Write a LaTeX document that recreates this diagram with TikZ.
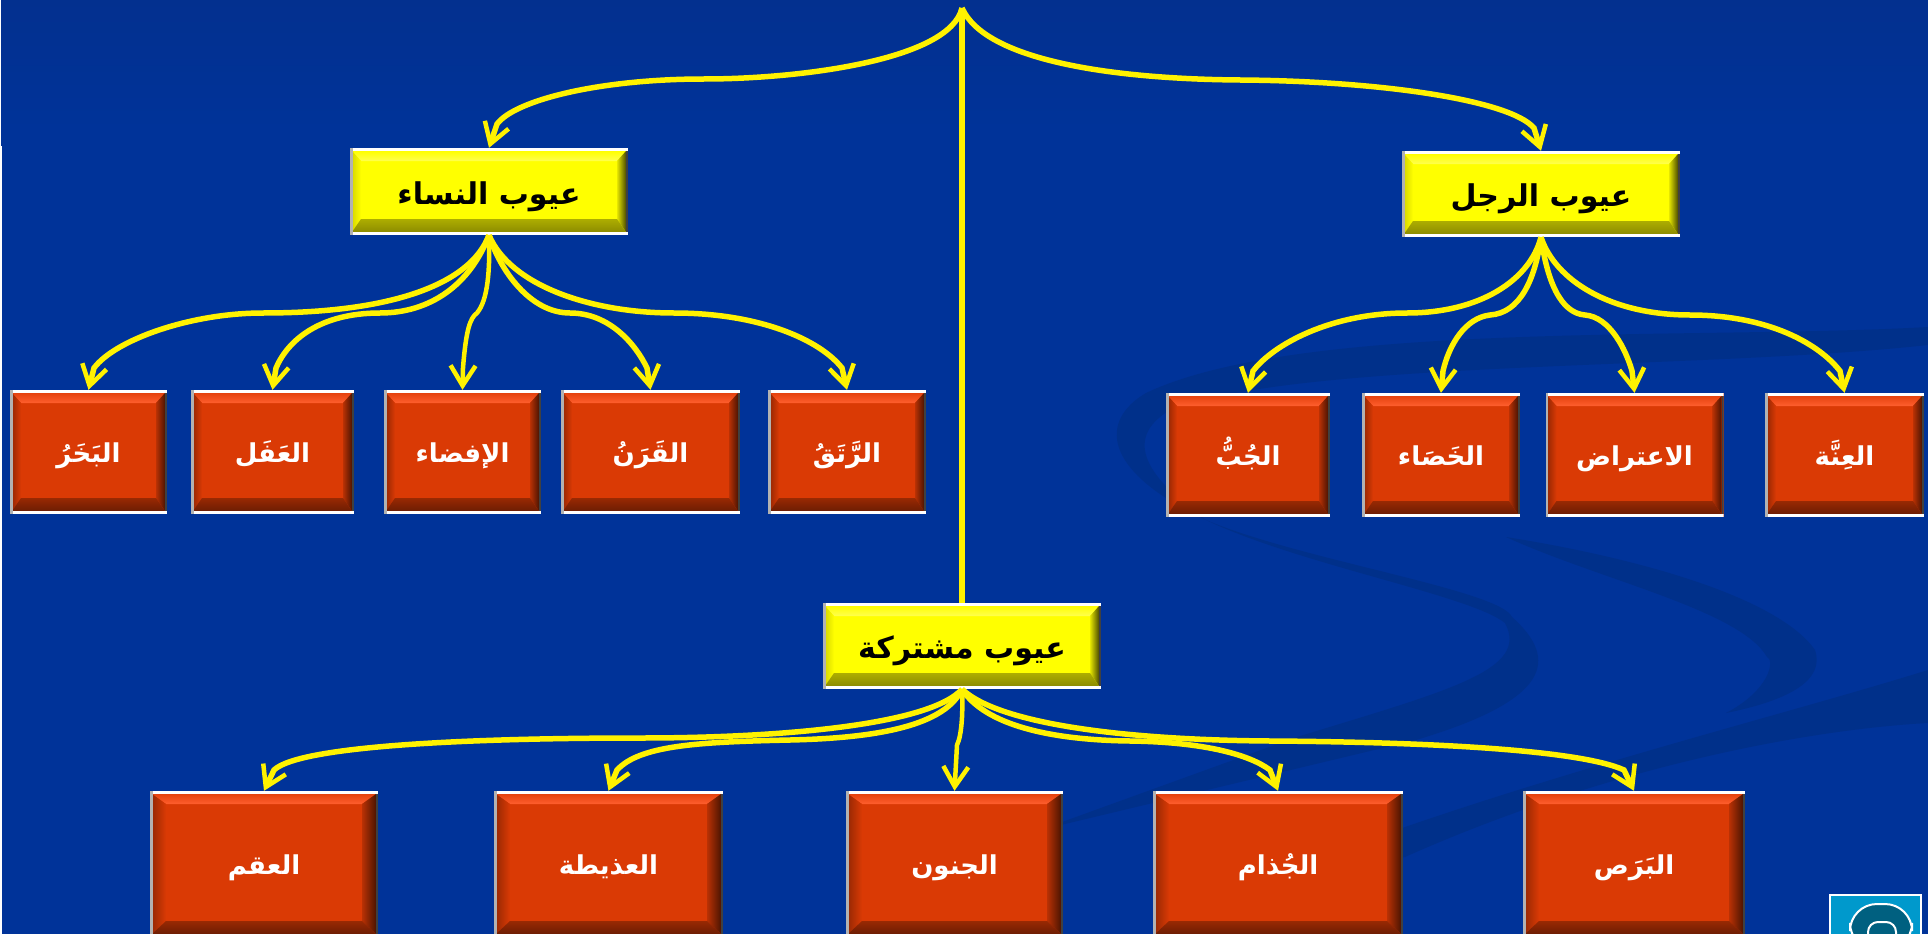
\documentclass[tikz,border=0pt]{standalone}
\usepackage{fontspec}
\newfontfamily\arabicfont[Script=Arabic]{DejaVu Sans Bold}
\TeXXeTstate=1
\usetikzlibrary{calc,arrows.meta}
\definecolor{Slide}{HTML}{003399}
\definecolor{Slidetop}{HTML}{03308F}
\definecolor{Swirl}{HTML}{00308A}
\definecolor{Logoblue}{HTML}{0099CC}
\definecolor{Logoteal}{HTML}{006080}
\definecolor{Redbase}{HTML}{DA3A05}
\definecolor{Redtopa}{HTML}{E5420E}
\definecolor{Redtopb}{HTML}{FF5F2E}
\definecolor{Yellowbase}{HTML}{FFFF00}
\definecolor{Yellowtopb}{HTML}{FFFF50}
\newcommand{\BevelFaces}[9]{
\coordinate (NW) at (path picture bounding box.north west);
\coordinate (NE) at (path picture bounding box.north east);
\coordinate (SW) at (path picture bounding box.south west);
\coordinate (SE) at (path picture bounding box.south east);
\shade[top color=#2,bottom color=#3] ($(NW)+(2,3)$)--($(NE)+(-2,3)$)--($(NE)+(-#1,13)$)--($(NW)+(#1,13)$)--cycle;
\shade[left color=#4,right color=#5] ($(NW)+(2,3)$)--($(NW)+(#1,13)$)--($(SW)+(#1,-16)$)--($(SW)+(2,-3)$)--cycle;
\shade[left color=#6,right color=#7] ($(NE)+(-#1,13)$)--($(NE)+(-2,3)$)--($(SE)+(-2,-3)$)--($(SE)+(-#1,-16)$)--cycle;
\shade[top color=#8,bottom color=#9] ($(SW)+(#1,-16)$)--($(SE)+(-#1,-16)$)--($(SE)+(-2,-3)$)--($(SW)+(2,-3)$)--cycle;
\fill[black!75] ($(NE)+(-2,3)$) rectangle ($(SE)+(0,-3)$);
\fill[white] (NW) rectangle ($(NE)+(0,3)$);
\fill[white] ($(SW)+(0,-3)$) rectangle (SE);
\fill[black!30] (NW) rectangle ($(SW)+(2.5,0)$);
}
\begin{document}
\begin{tikzpicture}
[
x=1pt,y=-1pt,
Link/.style={draw=yellow,line width=5.5pt,-{Straight Barb[length=20pt,width=25pt,line width=4.5pt]}},
Linkthin/.style={Link,line width=4.5pt},
Swirlshape/.style={fill=Swirl,draw=none},
Size/.style 2 args={minimum width=#1,minimum height=#2},
Boxtext/.style={inner sep=0pt,text height=20pt,text depth=0pt,align=center},
Redbox/.style={rectangle,Boxtext,fill=Redbase,text=white,font=\arabicfont\fontsize{26}{30}\selectfont,
path picture={\BevelFaces{#1}{Redtopa}{Redtopb}{Redbase!70!black}{Redbase}{Redbase!85!black}{Redbase!35!black}{Redbase!70!black}{Redbase!50!black}}},
Redbox/.default=11,
Yellowbox/.style={rectangle,Boxtext,text height=25pt,fill=Yellowbase,text=black,font=\arabicfont\fontsize{30}{34}\selectfont,
path picture={\BevelFaces{11}{Yellowbase}{Yellowtopb}{yellow!85!black}{Yellowbase}{yellow!90!black}{yellow!30!black}{yellow!68!black}{yellow!55!black}}}
]
\useasboundingbox (0,0) rectangle (1928,934);
\clip (0,0) rectangle (1928,934);

\fill[Slide] (0,0) rectangle (1928,934);
\shade[top color=Slidetop,bottom color=Slide] (0,0) rectangle (1928,130);
\fill[white] (0,146) rectangle (2,934);
\fill[white] (0,0) rectangle (1,146);

\fill[Swirlshape] (1928,327) .. controls (1700,340) and (1300,320) .. (1146,393) .. controls (1100,420) and (1100,470) .. (1206,520) .. controls (1300,560) and (1500,590) .. (1512,617) .. controls (1560,660) and (1550,700) .. (1416,740) -- (1040,830) -- (1297,737) .. controls (1450,690) and (1530,670) .. (1505,623) .. controls (1470,595) and (1300,565) .. (1206,520) .. controls (1150,480) and (1120,440) .. (1170,410) .. controls (1300,360) and (1700,370) .. (1928,345) -- cycle;
\fill[Swirlshape] (1506,537) .. controls (1650,560) and (1780,600) .. (1815,650) .. controls (1825,680) and (1790,700) .. (1726,713) .. controls (1770,690) and (1775,660) .. (1767,657) .. controls (1740,610) and (1600,580) .. (1506,537) -- cycle;
\fill[Swirlshape] (1928,670) .. controls (1800,710) and (1600,760) .. (1405,827) -- (1290,880) -- (1405,857) .. controls (1600,770) and (1800,730) .. (1928,723) -- cycle;

\node[Yellowbox,Size={278}{87}] (Women) at (489,191.5) {\beginR عيوب النساء\endR};
\node[Yellowbox,Size={278}{86}] (Men) at (1541,194) {\beginR عيوب الرجل\endR};
\node[Yellowbox,Size={278}{86}] (Shared) at (962,646) {\beginR عيوب مشتركة\endR};

\node[Redbox,Size={157}{124}] (Bakhar) at (88.5,452) {\beginR البَخَرُ\endR};
\node[Redbox,Size={163}{124}] (Afal) at (272.5,452) {\beginR العَفَل\endR};
\node[Redbox,Size={157}{124}] (Ifda) at (462.5,452) {\beginR الإفضاء\endR};
\node[Redbox,Size={179}{124}] (Qaran) at (650.5,452) {\beginR القَرَنُ\endR};
\node[Redbox,Size={158}{124}] (Ratq) at (847,452) {\beginR الرَّتَقُ\endR};

\node[Redbox,Size={164}{124}] (Jubb) at (1248,455) {\beginR الجُبُّ\endR};
\node[Redbox,Size={158}{124}] (Khasa) at (1441,455) {\beginR الخَصَاء\endR};
\node[Redbox,Size={178}{124}] (Itirad) at (1634.5,455) {\beginR الاعتراض\endR};
\node[Redbox,Size={159}{124}] (Inna) at (1844.5,455) {\beginR العِنَّة\endR};

\node[Redbox=16,Size={228}{146}] (Uqm) at (264,864) {\beginR العقم\endR};
\node[Redbox=16,Size={229}{146}] (Adhita) at (608.5,864) {\beginR العذيطة\endR};
\node[Redbox=16,Size={217}{146}] (Junun) at (954.5,864) {\beginR الجنون\endR};
\node[Redbox=16,Size={250}{146}] (Judham) at (1278,864) {\beginR الجُذام\endR};
\node[Redbox=16,Size={222}{146}] (Baras) at (1634,864) {\beginR البَرَص\endR};

\coordinate (Top) at (962,8);

\draw[Link] (Top) .. controls (950,60) and (800,79) .. (704,79) .. controls (600,79) and (515,100) .. (497,124) -- (Women.north);
\draw[Link] (Top) .. controls (985,60) and (1110,79) .. (1240,80) .. controls (1380,81) and (1510,100) .. (1534,128) -- (Men.north);
\draw[line width=5.5pt,draw=yellow] (Top) -- (Shared.north);

\draw[Link] (Women.south) .. controls (470,285) and (390,313) .. (263,313) .. controls (190,313) and (115,340) .. (94,368) -- (Bakhar.north);
\draw[Link] (Women.south) .. controls (470,285) and (430,313) .. (380,313) .. controls (320,313) and (288,340) .. (276,368) -- (Afal.north);
\draw[Linkthin] (Women.south) .. controls (490,270) and (488,300) .. (477,313) .. controls (470,318) and (466,330) .. (463,368) -- (Ifda.north);
\draw[Link] (Women.south) .. controls (500,270) and (530,313) .. (570,313) .. controls (610,313) and (636,345) .. (647,368) -- (Qaran.north);
\draw[Link] (Women.south) .. controls (510,285) and (590,313) .. (674,313) .. controls (760,313) and (820,340) .. (842,368) -- (Ratq.north);

\draw[Link] (Men.south) .. controls (1530,280) and (1480,313) .. (1407,313) .. controls (1330,313) and (1273,345) .. (1253,371) -- (Jubb.north);
\draw[Link] (Men.south) .. controls (1535,280) and (1520,313) .. (1490,315) .. controls (1465,318) and (1449,345) .. (1443,371) -- (Khasa.north);
\draw[Link] (Men.south) .. controls (1547,280) and (1560,313) .. (1585,315) .. controls (1610,317) and (1626,350) .. (1632,371) -- (Itirad.north);
\draw[Link] (Men.south) .. controls (1555,280) and (1610,315) .. (1690,315) .. controls (1770,315) and (1820,345) .. (1840,371) -- (Inna.north);

\draw[Link] (Shared.south) .. controls (930,725) and (780,738) .. (640,738) .. controls (480,738) and (300,745) .. (274,770) -- (Uqm.north);
\draw[Link] (Shared.south) .. controls (945,725) and (880,738) .. (790,740) .. controls (700,742) and (640,745) .. (617,770) -- (Adhita.north);
\draw[Linkthin] (Shared.south) .. controls (963,710) and (962,735) .. (957,745) -- (Junun.north);
\draw[Link] (Shared.south) .. controls (985,725) and (1050,740) .. (1130,741) .. controls (1205,742) and (1250,755) .. (1270,770) -- (Judham.north);
\draw[Link] (Shared.south) .. controls (1000,725) and (1130,740) .. (1270,741) .. controls (1430,742) and (1580,750) .. (1624,770) -- (Baras.north);

\fill[Logoblue,draw=white,line width=2.5pt] (1830,895) rectangle (1921,945);
\draw[fill=Logoteal,draw=white,line width=2pt,rounded corners=27pt] (1850,950)--(1850,904)--(1912,904)--(1912,950)--cycle;
\draw[fill=Logoteal,draw=white,line width=2pt,rounded corners=10pt] (1868,950)--(1868,922)--(1896,922)--(1896,950)--cycle;
\end{tikzpicture}
\end{document}
